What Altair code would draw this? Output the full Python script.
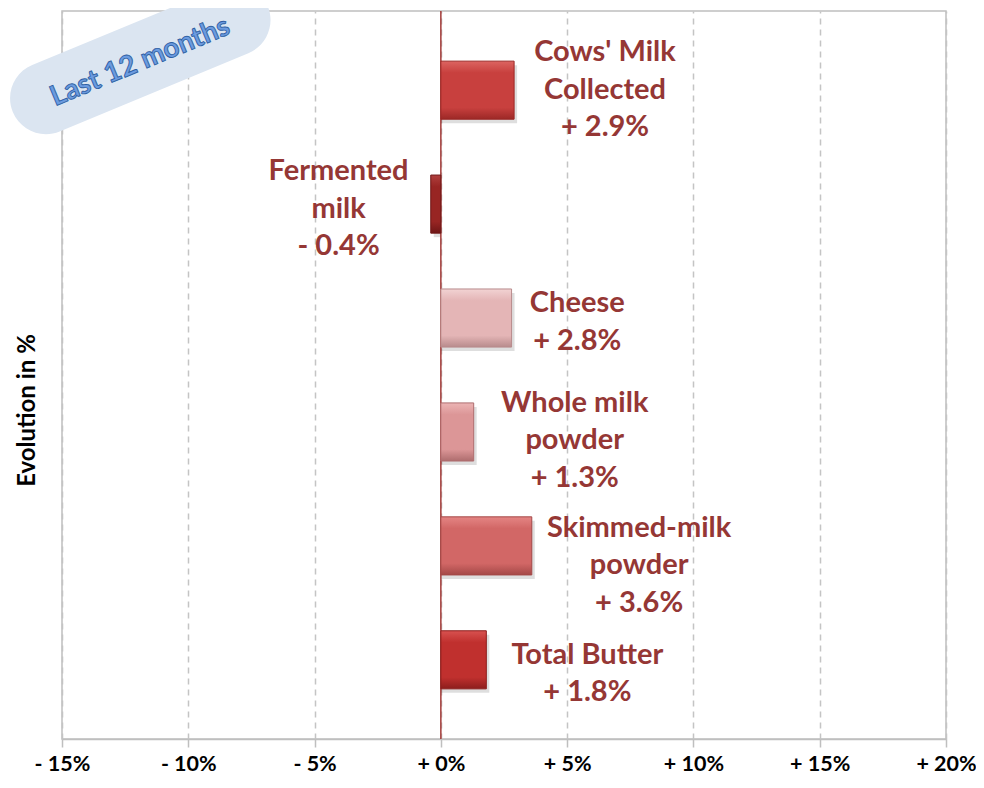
import altair as alt
import pandas as pd

# ---- data ----
categories = ["Cows' Milk Collected", "Fermented milk", "Cheese",
              "Whole milk powder", "Skimmed-milk powder", "Total Butter"]
values = [2.9, -0.4, 2.8, 1.3, 3.6, 1.8]
label_text = ["Cows' Milk\nCollected\n+ 2.9%", "Fermented\nmilk\n- 0.4%", "Cheese\n+ 2.8%",
              "Whole milk\npowder\n+ 1.3%", "Skimmed-milk\npowder\n+ 3.6%", "Total Butter\n+ 1.8%"]
label_x = [6.5, -4.05, 5.4, 5.3, 7.85, 5.8]
x_ticks = [-15, -10, -5, 0, 5, 10, 15, 20]
badge_text = ["Last 12 months"]
badge_x = [-11.9]

# ---- styles ----
label_dy = [-38, -33, -15, -29, -18, -5]
bar_palette = [
    ("#dc6461", "#c8403e", "#9c2826"),
    ("#b0403e", "#982523", "#6e1616"),
    ("#f2d3d3", "#e4b5b6", "#b88b8c"),
    ("#ecb5b5", "#dc9697", "#ae6d6e"),
    ("#e48584", "#d26766", "#a44847"),
    ("#d85250", "#c0302e", "#8c1d1c"),
]
LABEL_COLOR = "#953735"
FONT = "Lato"

df = pd.DataFrame({"category": categories, "value": values,
                   "label": label_text, "label_x": label_x})
zero_df = pd.DataFrame({"zero": [0]})
badge_df = pd.DataFrame({"x": badge_x, "category": [categories[0]], "text": badge_text})

x_scale = alt.Scale(domain=[-15, 20], nice=False, zero=False)
y_scale = alt.Scale(domain=categories, paddingInner=0.49, paddingOuter=0.44)

x_axis = alt.Axis(values=x_ticks,
                  labelExpr="(datum.value >= 0 ? '+ ' : '- ') + abs(datum.value) + '%'",
                  title=None, grid=True, gridColor="#c4c4c4", gridDash=[6, 5], gridWidth=1.5,
                  domainColor="#bfbfbf", domainWidth=1.5, tickColor="#bfbfbf", tickSize=8,
                  tickWidth=1.5, labelFont=FONT, labelFontSize=21.5, labelFontWeight="bold",
                  labelColor="#000000", labelPadding=6, labelFlush=False, labelOverlap=False)
y_axis = alt.Axis(title="Evolution in %", labels=False, ticks=False, domain=False, grid=False,
                  titleFont=FONT, titleFontSize=24, titleFontWeight="bold", titleColor="#000000",
                  titlePadding=23, titleY=399)

base = alt.Chart(df)

shadow = base.mark_bar(color="#000000", opacity=0.13, xOffset=3, yOffset=4).encode(
    x=alt.X("value:Q", scale=x_scale, axis=x_axis),
    x2=alt.datum(0),
    y=alt.Y("category:N", scale=y_scale, axis=y_axis),
)

layers = [shadow]
zero_rule = alt.Chart(zero_df).mark_rule(color="#a33b39", strokeWidth=1.5).encode(
    x=alt.X("zero:Q", scale=x_scale))
layers.append(zero_rule)

for i, cat in enumerate(categories):
    light, main, dark = bar_palette[i]
    grad = alt.LinearGradient(
        gradient="linear", x1=0, y1=0, x2=0, y2=1,
        stops=[alt.GradientStop(color=light, offset=0),
               alt.GradientStop(color=main, offset=0.2),
               alt.GradientStop(color=main, offset=0.8),
               alt.GradientStop(color=dark, offset=1)])
    layers.append(
        base.transform_filter(alt.datum.category == cat)
        .mark_bar(color=grad, stroke=dark, strokeWidth=1)
        .encode(x=alt.X("value:Q", scale=x_scale), x2=alt.datum(0),
                y=alt.Y("category:N", scale=y_scale))
    )

for i, cat in enumerate(categories):
    layers.append(
        base.transform_filter(alt.datum.category == cat)
        .mark_text(lineBreak="\n", font=FONT, fontSize=29, fontWeight="bold",
                   color=LABEL_COLOR, align="center", baseline="middle",
                   lineHeight=37.5, dy=label_dy[i])
        .encode(x=alt.X("label_x:Q", scale=x_scale), y=alt.Y("category:N", scale=y_scale),
                text="label:N")
    )

stadium = ("M -0.74 -0.26 L 0.74 -0.26 A 0.26 0.26 0 0 1 0.74 0.26 "
           "L -0.74 0.26 A 0.26 0.26 0 0 1 -0.74 -0.26 Z")
badge = alt.Chart(badge_df).mark_point(shape=stadium, size=276 ** 2, angle=337.5, filled=True,
                                       fill="#dbe5f1", fillOpacity=1, strokeWidth=0,
                                       yOffset=-31).encode(
    x=alt.X("x:Q", scale=x_scale), y=alt.Y("category:N", scale=y_scale))
badge_label = alt.Chart(badge_df).mark_text(angle=337.5, font=FONT, fontSize=28, fontWeight="bold",
                                            fill="#6b9be0", stroke="#2e5fa3", strokeWidth=0.9,
                                            align="center", baseline="middle",
                                            yOffset=-28).encode(
    x=alt.X("x:Q", scale=x_scale), y=alt.Y("category:N", scale=y_scale), text="text:N")
layers += [badge, badge_label]

chart = alt.layer(*layers).properties(
    width=884, height=728,
    autosize=alt.AutoSizeParams(type="none"),
    padding={"left": 54, "top": 3, "right": 30, "bottom": 41},
).configure_view(stroke="#bfbfbf", strokeWidth=1.5)

chart.save("out.html", embed_options={"renderer": "svg", "actions": False})
